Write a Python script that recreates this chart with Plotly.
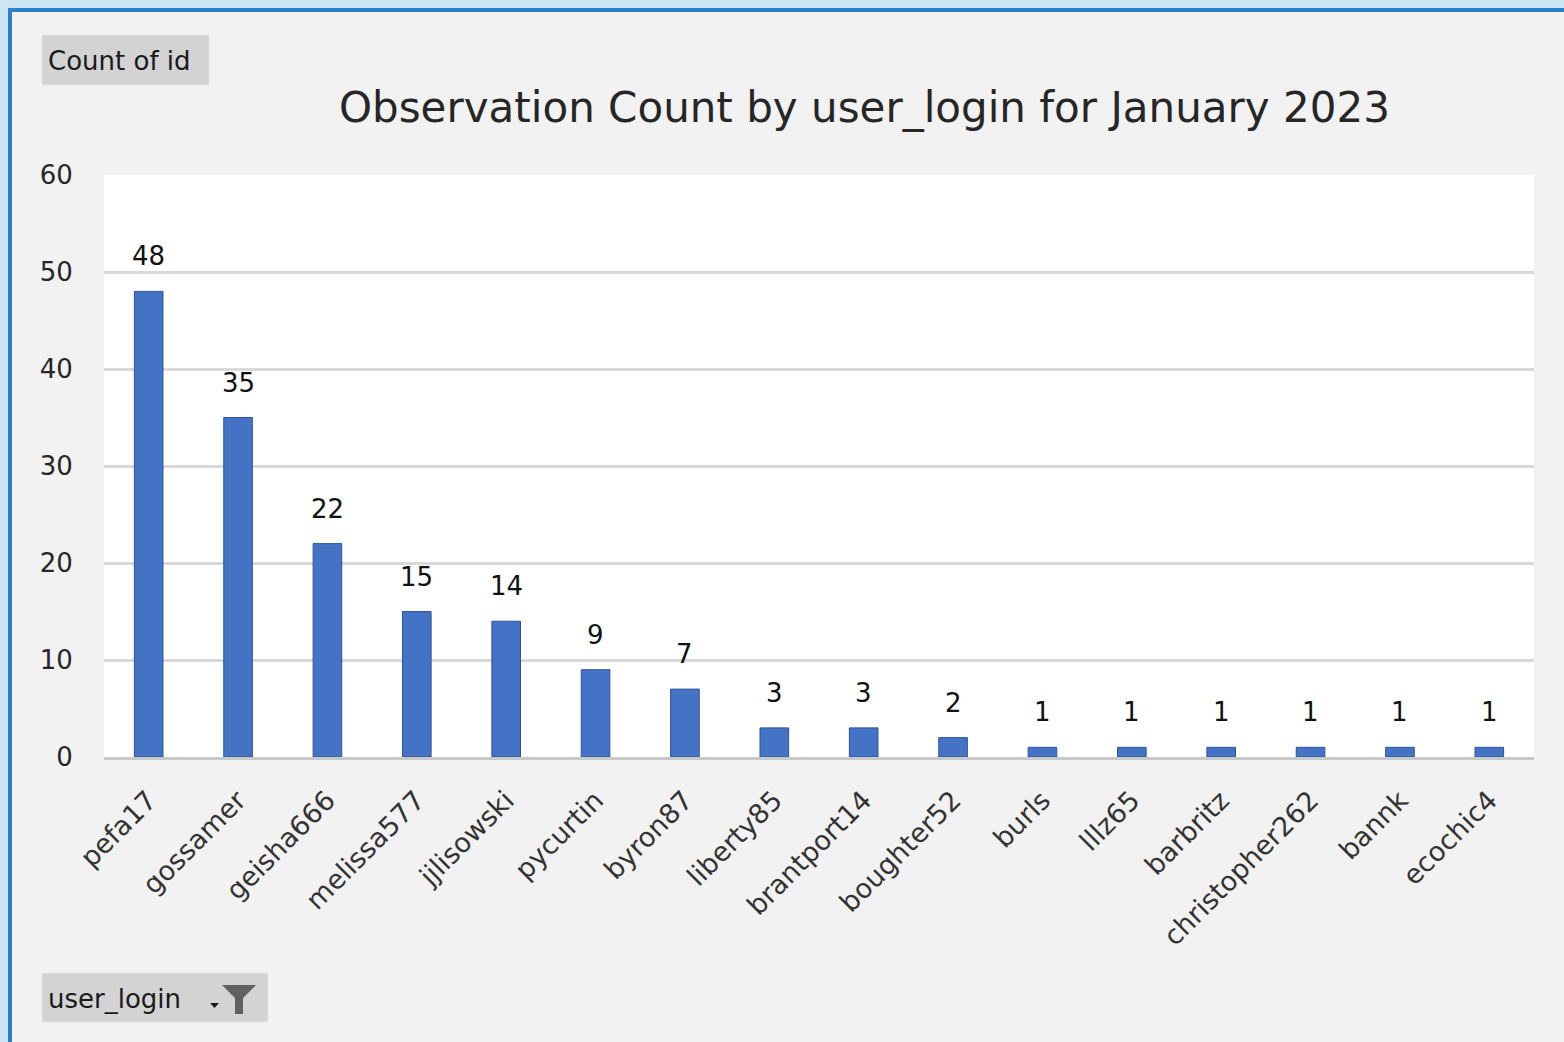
import plotly.graph_objects as go

users = ["pefa17", "gossamer", "geisha666", "melissa577", "jjlisowski", "pycurtin",
         "byron87", "liberty85", "brantport14", "boughter52", "burls", "lllz65",
         "barbritz", "christopher262", "bannk", "ecochic4"]
counts = [48, 35, 22, 15, 14, 9, 7, 3, 3, 2, 1, 1, 1, 1, 1, 1]
y_ticks = [0, 10, 20, 30, 40, 50, 60]
title_text = "Observation Count by user_login for January 2023"

W, H = 1564, 1042
L, R, T, B = 104, 1534, 175, 757
FONT = "DejaVu Sans, Tahoma, sans-serif"


def px(x):
    return (x - L) / (R - L)


def py(y):
    return (B - y) / (B - T)


fig = go.Figure()
fig.add_trace(go.Bar(
    x=users, y=counts, width=0.32,
    marker=dict(color="#4472c4", line=dict(color="#2f5597", width=1)),
    hoverinfo="x+y",
))

annotations = []
for u, c in zip(users, counts):
    annotations.append(dict(x=u, y=c, xref="x", yref="y", text=str(c), showarrow=False,
                            yanchor="bottom", yshift=18,
                            font=dict(family=FONT, size=26, color="#111111")))

annotations.append(dict(x=px(864), y=py(108), xref="paper", yref="paper", text=title_text,
                        showarrow=False, xanchor="center", yanchor="middle",
                        font=dict(family=FONT, size=42, color="#262626")))
annotations.append(dict(x=px(46), y=py(61), xref="paper", yref="paper", text="Count of id",
                        showarrow=False, xanchor="left", yanchor="middle",
                        font=dict(family=FONT, size=26, color="#1a1a1a")))
annotations.append(dict(x=px(46), y=py(999), xref="paper", yref="paper", text="user_login",
                        showarrow=False, xanchor="left", yanchor="middle",
                        font=dict(family=FONT, size=26, color="#1a1a1a")))

shapes = []
# outer window decoration
shapes.append(dict(type="rect", xref="paper", yref="paper", x0=px(0), x1=px(W), y0=py(0), y1=py(8),
                   fillcolor="#cce6f4", line=dict(width=0), layer="above"))
shapes.append(dict(type="rect", xref="paper", yref="paper", x0=px(0), x1=px(8), y0=py(0), y1=py(H),
                   fillcolor="#cce6f4", line=dict(width=0), layer="above"))
shapes.append(dict(type="rect", xref="paper", yref="paper", x0=px(8), x1=px(W), y0=py(8), y1=py(12),
                   fillcolor="#2b80ca", line=dict(width=0), layer="above"))
shapes.append(dict(type="rect", xref="paper", yref="paper", x0=px(8), x1=px(12), y0=py(8), y1=py(H),
                   fillcolor="#2b80ca", line=dict(width=0), layer="above"))
# pivot field buttons
shapes.append(dict(type="rect", xref="paper", yref="paper", x0=px(42), x1=px(209), y0=py(35), y1=py(85),
                   fillcolor="#d3d3d3", line=dict(color="#e6e6e6", width=1), layer="below"))
shapes.append(dict(type="rect", xref="paper", yref="paper", x0=px(42), x1=px(268), y0=py(973), y1=py(1022),
                   fillcolor="#d3d3d3", line=dict(color="#e6e6e6", width=1), layer="below"))
# funnel icon
fx = [222, 256, 243, 243, 235, 235]
fy = [985, 985, 998, 1014, 1014, 998]
path = "M " + " L ".join(f"{px(a)},{py(b)}" for a, b in zip(fx, fy)) + " Z"
shapes.append(dict(type="path", xref="paper", yref="paper", path=path,
                   fillcolor="#606060", line=dict(width=0), layer="above"))
tx = [210, 219, 214.5]
ty = [1003, 1003, 1008]
path2 = "M " + " L ".join(f"{px(a)},{py(b)}" for a, b in zip(tx, ty)) + " Z"
shapes.append(dict(type="path", xref="paper", yref="paper", path=path2,
                   fillcolor="#1a1a1a", line=dict(width=0), layer="above"))

fig.update_layout(
    width=W, height=H,
    margin=dict(l=L, r=W - R, t=T, b=H - B, pad=0),
    paper_bgcolor="#f2f2f2",
    plot_bgcolor="#ffffff",
    showlegend=False,
    annotations=annotations,
    shapes=shapes,
)
fig.update_xaxes(
    tickangle=-45, showgrid=False, showline=True, linecolor="#c8c8c8", linewidth=2.5,
    tickfont=dict(family=FONT, size=27, color="#333333"),
    ticks="outside", ticklen=14, tickcolor="rgba(0,0,0,0)", fixedrange=True,
)
fig.update_yaxes(
    range=[0, 60], tickvals=y_ticks, showgrid=True, gridcolor="#d9d9d9", gridwidth=2.5,
    zeroline=False, showline=False,
    tickfont=dict(family=FONT, size=26, color="#262626"),
    ticks="outside", ticklen=25, tickcolor="rgba(0,0,0,0)", fixedrange=True,
)

fig.write_html("out.html", config={"displayModeBar": False},
               post_script="document.body.style.margin='0';document.body.style.overflow='hidden';")
